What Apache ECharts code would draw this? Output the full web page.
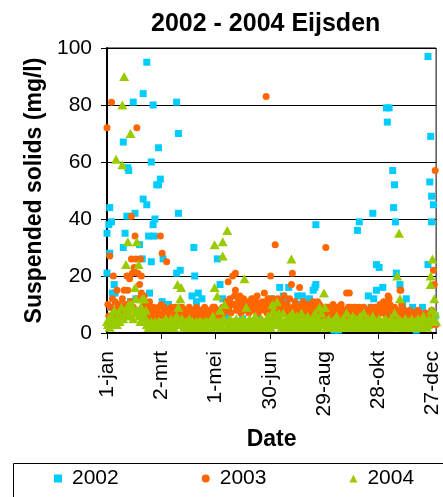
<!DOCTYPE html>
<html>
<head>
<meta charset="utf-8">
<script src="https://cdn.jsdelivr.net/npm/echarts@6/dist/echarts.min.js"></script>
<style>
html,body{margin:0;padding:0;background:#fff;}
#c{width:443px;height:497px;}
</style>
</head>
<body>
<div id="c"></div>
<script>
// x = day of year (0 = 1-jan), y = suspended solids (mg/l)
var tickLabels = ['1-jan','2-mrt','1-mei','30-jun','29-aug','28-okt','27-dec'];
var seriesNames = ['2002','2003','2004'];

var s2002 = [[0,35],[0,21],[2,38],[3,44],[3,28],[4,9],[5,39],[6,14],[8,17],[9,14],[10,3],[13,8],[18,67],[18,30],[20,35],[22,41],[23,58],[24,57],[26,11],[29,81],[31,42],[32,12],[34,7],[36,31],[39,26],[40,84],[40,47],[44,95],[44,45],[46,34],[47,14],[49,60],[49,25],[51,80],[51,38],[52,34],[53,40],[55,52],[57,65],[57,52],[59,54],[61,11],[62,26],[65,6],[68,10],[72,5],[77,81],[77,21],[79,70],[79,42],[81,22],[82,8],[86,4],[90,6],[94,13],[96,30],[97,20],[99,11],[101,14],[105,12],[109,6],[113,4],[118,8],[122,26],[125,17],[128,12],[133,6],[138,3],[145,10],[150,5],[156,9],[160,4],[166,6],[172,3],[174,10],[178,8],[182,12],[186,10],[191,16],[195,13],[199,11],[201,16],[205,8],[210,10],[211,13],[216,13],[220,6],[224,12],[228,15],[230,16],[231,38],[231,17],[235,5],[240,7],[245,3],[250,2],[251,1],[252,8],[256,1],[262,4],[268,6],[272,3],[277,36],[279,39],[283,5],[289,13],[292,9],[294,42],[295,12],[295,8],[298,15],[298,24],[301,23],[305,16],[309,79],[310,74],[312,79],[315,7],[316,57],[317,44],[318,52],[319,39],[320,21],[324,17],[327,10],[331,12],[335,5],[338,9],[340,3],[342,1],[344,5],[346,2],[349,9],[352,6],[355,97],[355,24],[357,53],[358,69],[359,48],[359,39],[361,45],[363,6]];

var s2003 = [[0,72],[1,10],[2,6],[3,27],[4,9],[5,81],[6,12],[7,20],[8,8],[9,11],[10,6],[11,15],[12,9],[13,7],[14,10],[15,5],[16,8],[17,12],[18,9],[19,15],[20,6],[21,10],[22,20],[23,15],[24,8],[25,19],[26,11],[27,41],[27,26],[28,21],[29,9],[30,23],[31,34],[32,26],[33,72],[34,21],[35,12],[36,17],[37,26],[38,20],[38,14],[39,9],[40,6],[41,13],[42,10],[43,7],[44,5],[45,9],[46,6],[47,11],[48,4],[49,7],[50,5],[51,9],[52,8],[53,6],[54,4],[55,6],[56,7],[57,9],[58,6],[59,34],[60,10],[61,28],[62,7],[63,9],[64,5],[65,8],[66,25],[67,8],
[68,7],[69,6],[70,8],[71,9],[72,5],[73,7],[74,8],[75,9],[76,6],[77,7],[78,8],[79,5],[80,9],[81,7],[82,6],[83,9],[84,6],[85,7],[86,8],[87,6],[88,5],[89,7],[90,8],[91,9],[92,7],[93,6],[94,8],[95,7],[96,5],[97,6],[98,7],[99,9],[100,8],[101,6],[102,7],[103,8],[104,7],[105,6],[106,5],[107,8],[108,9],[109,6],[110,7],[111,8],[112,6],[113,7],[114,5],[115,7],[116,8],[117,9],[118,6],[119,9],[120,8],[121,7],[122,6],[123,5],[124,8],[125,7],[126,6],[127,8],[128,9],[129,7],[130,9],
[131,8],[132,11],[133,9],[134,18],[135,9],[136,12],[137,7],[138,10],[139,20],[140,10],[141,13],[142,21],[142,15],[143,8],[144,10],[145,11],[146,9],[147,13],[148,7],[149,9],[150,10],[151,12],[152,8],[153,11],[154,9],[155,11],[156,8],[157,7],[158,10],[159,9],[160,12],[161,8],[162,10],[163,12],[164,9],[165,11],[166,13],[167,7],[168,10],[169,9],[170,10],[171,8],[172,11],[173,9],[174,14],[175,9],[176,83],[176,11],[177,7],[178,12],[179,10],[180,8],
[181,20],[182,9],[183,12],[184,7],[185,10],[186,31],[186,10],[187,8],[188,11],[189,12],[190,6],[191,9],[192,9],[193,11],[194,8],[195,7],[196,13],[197,10],[198,8],[199,10],[200,9],[201,6],[202,12],[203,8],[204,17],[205,21],[206,9],[207,7],[208,11],[209,10],[210,8],[211,9],[212,6],[213,16],[214,9],[215,8],[216,7],[217,11],[218,9],[219,5],[220,8],[221,7],[222,10],[223,6],[224,8],[225,9],[226,7],[227,10],[228,11],[229,8],[230,9],[231,6],[232,7],[233,11],[234,8],[235,10],[236,5],[237,9],[238,8],[239,7],[240,6],
[241,7],[242,30],[242,8],[243,9],[244,6],[245,9],[246,7],[247,5],[248,7],[249,8],[250,10],[251,6],[252,7],[253,8],[254,5],[255,9],[256,7],[257,9],[258,6],[259,10],[260,6],[261,8],[262,8],[263,5],[264,7],[265,14],[266,7],[267,9],[268,14],[269,9],[270,7],[271,6],[272,8],[273,9],[274,5],[275,9],[276,8],[277,7],[278,6],[279,9],[280,8],[281,5],[282,7],[283,7],[284,9],[285,8],[286,6],[287,8],[288,7],[289,5],[290,7],[291,8],[292,9],[293,6],[294,7],[295,8],[296,5],[297,9],[298,7],[299,6],[300,8],
[301,8],[302,10],[303,9],[304,7],[305,8],[306,11],[307,10],[308,9],[309,6],[310,8],[311,13],[312,12],[313,10],[314,9],[315,8],[316,6],[317,7],[318,9],[319,7],[320,8],[321,5],[322,7],[323,8],[324,15],[325,15],[326,10],[327,7],[328,6],[329,8],[330,7],[331,5],[332,6],[333,7],[334,4],[335,8],[336,6],[337,5],[338,5],[339,7],[340,6],[341,4],[342,5],[343,6],[344,8],[345,7],[346,5],[347,6],[348,3],[349,5],[350,6],[351,4],[352,7],[353,5],[354,6],[355,3],[356,6],[357,5],[358,4],[359,8],[360,3],[361,22],[362,17],[363,57],[364,3]];

var s2004 = [[0,4],[1,3],[2,5],[3,2],[4,6],[5,4],[6,3],[7,5],[8,8],[9,4],[10,61],[11,3],[12,5],[13,7],[14,4],[15,6],[16,9],[17,80],[17,59],[18,5],[19,90],[20,7],[21,24],[22,8],[23,32],[24,10],[25,6],[26,70],[27,10],[28,9],[29,5],[30,7],[31,16],[32,12],[33,32],[34,8],[35,24],[36,6],[37,4],[38,9],[39,12],[40,7],[41,12],[42,5],[43,8],
[44,3],[45,4],[46,2],[47,3],[48,2],[49,4],[50,3],[51,2],[52,2],[53,4],[54,3],[55,3],[56,2],[57,4],[58,4],[59,3],[60,2],[61,2],[62,4],[63,3],[64,3],[65,5],[66,2],[67,4],[68,3],[69,2],[70,2],[71,5],[72,3],[73,2],[74,2],[75,4],[76,3],[77,6],[78,17],[79,9],[80,4],[81,12],[82,16],[83,5],[84,3],[85,2],[86,3],[87,4],[88,3],[89,2],[90,3],[91,5],[92,3],[93,2],[94,4],[95,4],[96,3],[97,2],[98,3],[99,4],[100,3],[101,2],[102,4],[103,2],[104,4],[105,3],[106,3],[107,2],[108,4],[109,4],[110,3],[111,4],[112,2],[113,2],[114,4],[115,3],[116,3],[117,6],[118,3],[119,31],[119,16],[120,4],[121,2],[122,13],[123,4],[124,3],[125,8],[126,4],[127,2],[128,32],[128,27],[129,5],[130,10],
[131,4],[132,2],[133,36],[134,4],[135,3],[136,5],[137,2],[138,4],[139,2],[140,4],[141,3],[142,3],[143,5],[144,2],[145,4],[146,2],[147,4],[148,3],[149,3],[150,5],[151,2],[152,19],[153,4],[154,9],[155,4],[156,3],[157,2],[158,5],[159,4],[160,2],[161,3],[162,4],[163,3],[164,6],[165,2],[166,4],[167,2],[168,3],[169,4],[170,3],[171,5],[172,2],[173,4],[174,2],[175,3],[176,4],[177,3],[178,6],[179,2],[180,4],[181,2],[182,5],[183,10],[184,8],[185,4],[186,6],[187,3],[188,11],[189,4],[190,7],[191,4],[192,5],[193,2],[194,3],[195,7],[196,4],[197,2],[198,3],[199,5],[200,4],[201,2],[202,6],[203,3],[204,26],[204,4],[205,7],[206,3],[207,2],[208,5],[209,4],[210,6],[211,2],[212,3],[213,4],[214,2],[215,7],[216,4],[217,2],[218,3],[219,5],[220,3],[221,2],[222,6],[223,4],[224,3],[225,4],[226,2],[227,3],[228,5],[229,4],[230,7],
[231,2],[232,3],[233,5],[234,2],[235,9],[236,4],[237,7],[238,3],[239,4],[240,14],[241,9],[242,4],[243,2],[244,3],[245,5],[246,4],[247,2],[248,2],[249,4],[250,3],[251,2],[252,5],[253,4],[254,6],[255,2],[256,3],[257,4],[258,2],[259,3],[260,4],[261,5],[262,2],[263,3],[264,4],[265,7],[266,3],[267,4],[268,2],[269,3],[270,4],[271,3],[272,6],[273,2],[274,4],[275,5],[276,4],[277,2],[278,3],[279,4],[280,6],[281,5],[282,4],[283,2],[284,7],[285,3],[286,4],[287,2],[288,2],[289,5],[290,4],[291,3],[292,3],[293,4],[294,6],[295,2],[296,3],[297,4],[298,2],[299,3],[300,4],
[301,5],[302,3],[303,2],[304,4],[305,2],[306,4],[307,3],[308,5],[309,3],[310,4],[311,2],[312,2],[313,4],[314,5],[315,3],[316,3],[317,4],[318,7],[319,2],[320,4],[321,20],[322,5],[323,35],[324,12],[325,3],[326,4],[327,2],[328,2],[329,4],[330,5],[331,3],[332,3],[333,4],[334,2],[335,3],[336,4],[337,5],[338,3],[339,2],[340,4],[341,2],[342,4],[343,3],[344,5],[345,3],[346,4],[347,2],[348,2],[349,4],[350,6],[351,3],[352,3],[353,4],[354,2],[355,3],[356,5],[357,4],[358,20],[358,17],[359,8],[360,26],[361,5],[362,12],[363,7],[364,4]];

var chart = echarts.init(document.getElementById('c'), null, {renderer:'canvas'});
var FONT = 'Liberation Sans, Arial, sans-serif';
chart.setOption({
  animation: false,
  backgroundColor: '#fff',
  title: {
    text: '2002 - 2004 Eijsden',
    left: 146, top: 7,
    textStyle: {fontFamily: FONT, fontWeight: 'bold', fontSize: 25, color: '#000'}
  },
  grid: {left: 107, top: 48, right: 1, bottom: 164, show: true, borderColor: '#000', borderWidth: 1, containLabel: false},
  legend: {
    left: 49, top: 463,
    itemWidth: 8, itemHeight: 8, itemGap: 83,
    data: [{name: seriesNames[0], icon: 'rect'}, {name: seriesNames[1], icon: 'circle'}, {name: seriesNames[2], icon: 'triangle'}],
    textStyle: {fontFamily: FONT, fontSize: 21, color: '#000', padding: [0,0,0,5]}
  },
  graphic: [{
    type: 'rect', left: 11, top: 461, silent: true,
    shape: {width: 445, height: 50},
    style: {fill: 'none', stroke: '#000', lineWidth: 1}
  }],
  xAxis: {
    type: 'value', min: 0, max: 364, interval: 60,
    name: 'Date', nameLocation: 'middle', nameGap: 95,
    nameTextStyle: {fontFamily: FONT, fontWeight: 'bold', fontSize: 23, color: '#000'},
    axisLine: {show: true, lineStyle: {color: '#000', width: 2}},
    axisTick: {show: true, inside: false, length: 6, lineStyle: {color: '#000', width: 1}},
    splitLine: {show: false},
    axisLabel: {
      rotate: 90, margin: 18, showMaxLabel: false,
      fontFamily: FONT, fontSize: 21, color: '#000',
      formatter: function (v) { return (v % 60 === 0) ? tickLabels[v / 60] : ''; }
    }
  },
  yAxis: {
    type: 'value', min: 0, max: 100, interval: 20,
    name: 'Suspended solids (mg/l)', nameLocation: 'middle', nameGap: 20, nameRotate: 90,
    nameTextStyle: {fontFamily: FONT, fontWeight: 'bold', fontSize: 23, color: '#000'},
    axisLine: {show: true, lineStyle: {color: '#000', width: 2}},
    axisTick: {show: true, inside: false, length: 6, lineStyle: {color: '#000', width: 1}},
    splitLine: {show: true, lineStyle: {color: '#000', width: 1}},
    axisLabel: {margin: 15, fontFamily: FONT, fontSize: 21, color: '#000'}
  },
  series: [
    {name: seriesNames[0], type: 'scatter', data: s2002, symbol: 'rect', symbolSize: 7, clip: false,
     itemStyle: {color: '#00CCFF', opacity: 1}},
    {name: seriesNames[1], type: 'scatter', data: s2003, symbol: 'circle', symbolSize: 7, clip: false,
     itemStyle: {color: '#FF6600', opacity: 1}},
    {name: seriesNames[2], type: 'scatter', data: s2004, symbol: 'triangle', symbolSize: [10, 9], clip: false,
     itemStyle: {color: '#99CC00', opacity: 1}}
  ]
});
</script>
</body>
</html>
